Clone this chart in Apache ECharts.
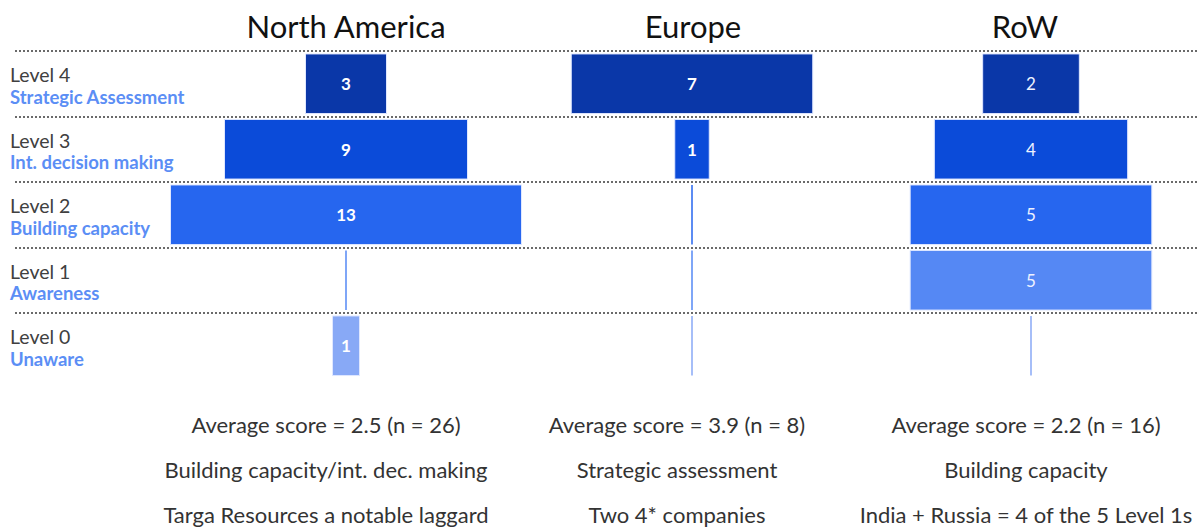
<!DOCTYPE html>
<html>
<head>
<meta charset="utf-8">
<script src="https://cdn.jsdelivr.net/npm/echarts@6/dist/echarts.min.js"></script>
<style>
html,body{margin:0;padding:0;background:#fff;}
#chart{width:1198px;height:529px;}
</style>
</head>
<body>
<div id="chart"></div>
<script>
// ---- data ----
const levels = ['Level 0', 'Level 1', 'Level 2', 'Level 3', 'Level 4'];
const levelNames = ['Unaware', 'Awareness', 'Building capacity', 'Int. decision making', 'Strategic Assessment'];
const regions = ['North America', 'Europe', 'RoW'];
const northAmerica = [1, 0, 13, 9, 3];
const europe = [0, 0, 0, 1, 7];
const restOfWorld = [0, 5, 5, 4, 2];
const averageNotes = ['Average score = 2.5 (n = 26)', 'Average score = 3.9 (n = 8)', 'Average score = 2.2 (n = 16)'];
const focusNotes = ['Building capacity/int. dec. making', 'Strategic assessment', 'Building capacity'];
const extraNotes = ['Targa Resources a notable laggard', 'Two 4* companies', 'India + Russia = 4 of the 5 Level 1s'];

// ---- styling ----
const levelColors = ['#88a9f6', '#5588f4', '#2666ef', '#0b4bd9', '#0a37a8'];
const FONT = 'Lato, "Open Sans", sans-serif';
const gridTop = 51, gridH = 327.5;
const regionGrids = [
  {left: 157, width: 378, half: 7, labelWeight: 'bold', labelColor: '#ffffff'},
  {left: 554, width: 276, half: 4, labelWeight: 'bold', labelColor: '#ffffff'},
  {left: 886, width: 290, half: 3, labelWeight: 'normal', labelColor: '#eef2ff'}
];
const titleCenters = [346, 693, 1025];
const noteCenters = [326, 677, 1026];
const seriesData = [northAmerica, europe, restOfWorld];

function makeRender(cfg) {
  return function (params, api) {
    const v = api.value(0);
    const cat = api.value(1);
    const c = api.coord([0, cat]);
    const bandH = api.size([0, 1])[1];
    const color = levelColors[cat];
    if (v === 0) {
      return {
        type: 'line',
        shape: {x1: c[0], y1: c[1] - bandH / 2 + 3, x2: c[0], y2: c[1] + bandH / 2 - 3},
        style: {stroke: color, lineWidth: 1.5}
      };
    }
    const l = api.coord([-v / 2, cat]);
    const r = api.coord([v / 2, cat]);
    const h = bandH * 0.91;
    return {
      type: 'group',
      children: [
        {type: 'rect', shape: {x: l[0], y: c[1] - h / 2, width: r[0] - l[0], height: h},
         style: {fill: color, stroke: '#dfe7ff', lineWidth: 1}},
        {type: 'text', style: {text: String(v), x: c[0], y: c[1], align: 'center', verticalAlign: 'middle',
          fill: cfg.labelColor, fontSize: 17, fontWeight: cfg.labelWeight, fontFamily: FONT}}
      ]
    };
  };
}

const grids = [], xAxes = [], yAxes = [], series = [];
regionGrids.forEach((g, i) => {
  grids.push({left: g.left, width: g.width, top: gridTop, height: gridH});
  xAxes.push({type: 'value', gridIndex: i, min: -g.half, max: g.half, show: false});
  yAxes.push({type: 'category', gridIndex: i, data: levels, show: false});
  series.push({
    type: 'custom', xAxisIndex: i, yAxisIndex: i,
    data: seriesData[i].map((v, k) => [v, k]),
    renderItem: makeRender(g), silent: true
  });
});
// separator grid (full width)
grids.push({left: 15, right: 0, top: gridTop, height: gridH});
xAxes.push({type: 'value', gridIndex: 3, min: 0, max: 1, show: false});
yAxes.push({type: 'value', gridIndex: 3, min: 0, max: levels.length, inverse: true, show: false});
series.push({
  type: 'line', xAxisIndex: 3, yAxisIndex: 3, data: [], silent: true,
  markLine: {
    silent: true, symbol: 'none', label: {show: false},
    lineStyle: {color: '#6a6a6a', width: 2, type: [2, 2]},
    data: levels.map((_, k) => ({yAxis: k}))
  }
});
// label grid
grids.push({left: 10, width: 200, top: gridTop, height: gridH});
xAxes.push({type: 'value', gridIndex: 4, min: 0, max: 1, show: false});
yAxes.push({
  type: 'category', gridIndex: 4, data: levels,
  axisLine: {show: false}, axisTick: {show: false}, splitLine: {show: false},
  axisLabel: {
    inside: true, margin: 0, align: 'left', padding: [4, 0, 0, 0],
    formatter: (value, idx) => '{a|' + value + '}\n{b|' + levelNames[idx] + '}',
    rich: {
      a: {fontSize: 19.5, color: '#404040', fontFamily: FONT, lineHeight: 22},
      b: {fontSize: 18.5, fontWeight: 'bold', color: '#5b8ef5', fontFamily: FONT, lineHeight: 22}
    }
  }
});

const graphics = [];
regions.forEach((name, i) => {
  graphics.push({type: 'text', x: titleCenters[i], y: 26,
    style: {text: name, align: 'center', verticalAlign: 'middle', fontSize: 31, fontFamily: FONT, fill: '#111'}});
  [averageNotes, focusNotes, extraNotes].forEach((arr, r) => {
    graphics.push({type: 'text', x: noteCenters[i], y: 424 + r * 45.3,
      style: {text: arr[i], align: 'center', verticalAlign: 'middle', fontSize: 22, fontFamily: FONT, fill: '#333'}});
  });
});

const chart = echarts.init(document.getElementById('chart'), null, {renderer: 'svg'});
chart.setOption({
  animation: false,
  backgroundColor: '#ffffff',
  grid: grids, xAxis: xAxes, yAxis: yAxes, series: series,
  graphic: graphics
});
</script>
</body>
</html>
